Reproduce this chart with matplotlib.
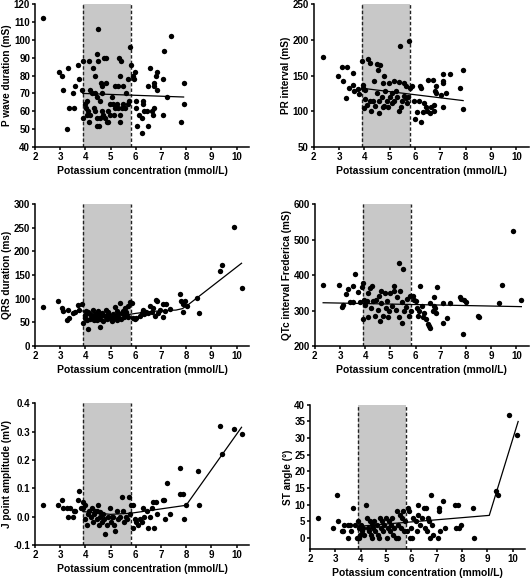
import matplotlib
matplotlib.use("Agg")
import matplotlib.pyplot as plt

plt.rcParams['font.family'] = ['Liberation Sans', 'DejaVu Sans']
plt.rcParams['font.weight'] = 'bold'
plt.rcParams['axes.labelweight'] = 'bold'

# normal potassium range (shaded)
k_low, k_high = 3.9, 5.8
x_ticks = [2, 3, 4, 5, 6, 7, 8, 9, 10]

# P wave duration
k1 = [2.33, 2.94, 3.07, 3.12, 3.31, 3.26, 3.36, 3.53, 3.52, 3.58, 3.71, 3.76, 3.89, 3.85,
      4.13, 4.51, 4.48, 4.50, 4.29, 4.37, 4.75, 4.82, 4.62, 4.80, 4.66, 5.35, 5.41, 5.37, 5.31, 5.17,
      5.50, 5.69, 5.77, 5.81, 5.88, 5.93, 5.97, 5.63, 5.74, 5.70,
      4.18, 4.25, 4.05, 3.98, 4.02, 4.12, 4.06, 4.20, 3.92, 4.16, 4.34, 4.38, 4.45, 4.48, 4.53, 4.58,
      4.65, 4.71, 4.78, 4.84, 4.91, 4.98, 4.88, 4.98, 5.04, 5.11, 5.17, 5.24, 5.31, 5.37, 5.37, 5.44,
      5.50, 5.57, 5.14, 4.58, 4.45, 4.37, 4.65,
      6.03, 6.03, 6.06, 6.11, 6.23, 6.27, 6.27, 6.25, 6.33, 6.43, 6.48, 6.48, 6.56, 6.63, 6.67, 6.74,
      6.74, 6.72, 6.80, 6.85, 6.83, 7.09, 7.14, 7.10, 7.25, 7.38, 7.79, 7.91, 7.90]
pwave = [112, 82, 80, 72, 84, 50, 62, 62, 70, 74, 86, 78, 88, 72,
         88, 106, 92, 88, 84, 80, 90, 90, 76, 76, 74, 90, 88, 80, 74, 74,
         74, 78, 96, 86, 80, 78, 82, 70, 66, 64,
         72, 70, 66, 64, 62, 60, 58, 58, 56, 54, 62, 60, 56, 52, 52, 56,
         60, 58, 56, 54, 54, 58, 60, 64, 68, 64, 62, 64, 62, 58, 54, 62,
         64, 62, 58, 66, 68, 70, 70,
         66, 62, 52, 58, 56, 66, 64, 48, 60, 60, 52, 74, 84, 60, 58, 62,
         76, 74, 80, 82, 72, 78, 94, 58, 68, 102, 54, 76, 64]
fit1_x = [3.9, 7.9]
fit1_y = [70, 68]

# PR interval
k2 = [2.35, 2.95, 3.10, 3.16, 3.30, 3.26, 3.38, 3.54, 3.55, 3.60, 3.73, 3.77, 3.92, 3.94, 3.96, 4.04,
      4.14, 4.22, 4.50, 4.62, 4.55, 4.39, 4.79, 4.72, 4.96, 5.18, 5.40, 5.76, 5.38, 5.55, 5.65, 5.81, 5.87,
      4.03, 4.09, 4.00, 4.26, 4.35, 4.43, 4.51, 4.56, 4.59, 4.69, 4.72, 4.81, 4.89, 4.92, 5.02, 5.09,
      5.11, 5.18, 5.24, 5.28, 5.38, 5.44, 5.47, 5.55, 5.64, 5.68, 5.73, 4.78, 4.21,
      5.97, 6.01, 6.07, 6.14, 6.19, 6.23, 6.24, 6.30, 6.34, 6.43, 6.49, 6.53, 6.59, 6.62, 6.70, 6.74,
      6.76, 6.80, 6.81, 6.84, 7.02, 7.09, 7.11, 7.12, 7.12, 7.22, 7.38, 7.77, 7.89, 7.90]
pr = [176, 150, 162, 142, 162, 119, 132, 153, 137, 129, 131, 124, 171, 137, 133, 130,
      173, 167, 166, 165, 158, 143, 150, 139, 139, 143, 192, 199, 141, 140, 135, 133, 135,
      117, 109, 105, 101, 115, 108, 125, 97, 115, 120, 106, 128, 115, 106, 120, 111,
      125, 115, 129, 120, 101, 106, 115, 122, 118, 111, 120, 108, 115,
      115, 89, 99, 115, 135, 133, 85, 99, 111, 106, 101, 144, 97, 106, 144, 100,
      109, 129, 125, 136, 123, 143, 152, 139, 106, 126, 152, 132, 158, 103]
fit2_x = [3.97, 7.9]
fit2_y = [132, 115]

# QRS duration
k3 = [2.32, 2.93, 3.07, 3.12, 3.26, 3.32, 3.36, 3.52, 3.58, 3.71, 3.76, 3.87,
      4.12, 4.58, 3.90, 3.98, 4.05, 4.18, 4.29, 4.38, 4.45, 4.51, 4.58, 4.65, 4.71, 4.82, 4.87, 4.98,
      5.06, 5.11, 5.17, 5.24, 5.31, 5.37, 5.44, 5.50, 5.57, 5.63, 5.70, 5.77, 5.84, 4.08, 4.34, 4.78,
      5.20, 5.53, 4.02,
      4.00, 4.10, 4.20, 4.25, 4.40, 4.50, 4.60, 4.70, 4.90, 5.00, 5.10, 5.30, 5.40, 5.60, 5.70, 4.45,
      4.90, 5.25,
      5.90, 5.97, 6.03, 6.17, 6.23, 6.27, 6.34, 6.40, 6.50, 6.56, 6.63, 6.70, 6.76, 6.80, 6.86, 6.89,
      6.96, 7.07, 7.09, 7.16, 7.22, 7.36, 7.75, 7.78, 7.86, 7.89, 7.95, 8.02, 8.44, 8.52, 9.34, 9.42,
      9.90, 10.21]
qrs = [82, 95, 81, 74, 54, 77, 60, 70, 72, 87, 77, 88,
       36, 40, 49, 60, 70, 67, 76, 60, 56, 75, 63, 70, 53, 77, 57, 63,
       53, 67, 82, 56, 70, 91, 69, 74, 81, 67, 84, 93, 90, 56, 56, 63,
       63, 62, 73,
       65, 72, 58, 63, 68, 62, 57, 66, 68, 58, 60, 62, 58, 72, 62, 70,
       72, 75,
       60, 57, 60, 63, 70, 76, 67, 72, 69, 84, 72, 81, 64, 98, 95, 70,
       77, 62, 88, 74, 89, 78, 109, 95, 88, 72, 95, 84, 102, 69, 159, 172,
       252, 123]
fit3_x = [3.9, 4.3, 4.8, 5.4, 6.0, 6.6, 7.2, 7.6, 7.85, 8.05, 10.2]
fit3_y = [74, 67, 63, 64, 69, 73, 75, 76, 79, 86, 175]

# QTc interval
k4 = [2.33, 2.95, 3.08, 3.13, 3.25, 3.32, 3.38, 3.52, 3.53, 3.58, 3.71, 3.78, 3.87, 3.91, 3.92,
      3.95, 4.01, 4.08, 4.13, 4.19, 4.27, 4.24, 4.32, 4.37, 4.44, 4.50, 4.57, 4.61, 4.64, 4.70, 4.77,
      4.81, 4.87, 4.90, 4.96, 5.00, 5.06, 5.13, 5.16, 5.23, 5.27, 5.33, 5.36, 5.40, 5.45, 5.47, 5.50,
      5.56, 5.63, 5.66, 5.72, 5.77, 5.82, 4.54, 4.11,
      5.89, 5.95, 6.02, 6.06, 6.08, 6.15, 6.19, 6.24, 6.28, 6.35, 6.41, 6.48, 6.52, 6.56, 6.59, 6.68,
      6.72, 6.74, 6.77, 6.81, 6.86, 7.09, 7.10, 7.25, 7.35, 7.77, 7.82, 7.89, 7.93, 8.02, 8.46, 8.52,
      9.33, 9.42, 9.85, 10.20]
qtc = [371, 372, 309, 315, 348, 362, 325, 325, 368, 404, 352, 325, 366, 378, 277,
       331, 317, 326, 281, 364, 369, 307, 326, 284, 331, 301, 270, 354, 321, 286, 350,
       307, 326, 282, 298, 350, 314, 354, 370, 301, 338, 434, 282, 356, 325, 264, 418,
       298, 310, 333, 286, 340, 298, 340, 350,
       340, 331, 326, 307, 284, 298, 368, 312, 282, 292, 277, 263, 256, 322, 251, 298,
       312, 337, 307, 293, 367, 322, 265, 280, 322, 337, 333, 235, 329, 325, 284, 282,
       320, 373, 525, 331]
fit4_x = [2.33, 10.2]
fit4_y = [322, 311]

# J point amplitude
k5 = [2.32, 2.93, 3.07, 3.12, 3.26, 3.32, 3.39, 3.52, 3.55, 3.60, 3.69, 3.76, 3.83, 3.90,
      3.92, 3.98, 4.00, 4.05, 4.09, 4.16, 4.21, 4.25, 4.31, 4.35, 4.40, 4.45, 4.51, 4.55, 4.58, 4.65,
      4.69, 4.74, 4.79, 4.84, 4.91, 4.98, 5.02, 5.08, 5.15, 5.17, 5.24, 5.31, 5.37, 5.45, 5.48, 5.53,
      5.60, 5.66, 5.74, 5.77, 5.81, 4.47, 4.60, 5.06,
      5.90, 5.90, 5.97, 6.03, 6.10, 6.17, 6.23, 6.27, 6.33, 6.43, 6.50, 6.56, 6.63, 6.70, 6.72, 6.80,
      6.83, 7.07, 7.12, 7.16, 7.25, 7.36, 7.75, 7.75, 7.89, 7.91, 7.99, 8.46, 8.52, 9.35, 9.43, 9.90,
      10.20]
jpt = [0.04, 0.04, 0.06, 0.03, 0.03, 0.0, 0.03, 0.0, 0.02, 0.02, 0.06, 0.09, 0.03, 0.03,
       0.05, 0.04, -0.01, -0.03, 0.01, 0.02, 0.0, 0.03, -0.02, 0.01, 0.02, -0.01, 0.04, -0.03, 0.0, -0.02,
       0.01, -0.01, -0.06, -0.03, 0.0, 0.03, -0.02, 0.0, -0.03, -0.05, 0.02, -0.01, 0.0, 0.07, 0.02, -0.02,
       0.0, -0.01, 0.07, 0.01, 0.04, 0.02, 0.015, 0.0,
       0.04, -0.04, -0.01, -0.02, -0.03, -0.01, -0.02, 0.03, 0.0, 0.02, -0.04, 0.0, 0.03, 0.05, -0.04, 0.05,
       0.01, 0.06, 0.06, -0.01, 0.12, 0.01, 0.17, 0.08, 0.08, -0.01, 0.04, 0.16, 0.04, 0.32, 0.22, 0.31,
       0.29]
fit5_x = [3.9, 5.0, 5.8, 8.0, 10.2]
fit5_y = [0.018, 0.008, 0.012, 0.04, 0.315]

# ST angle
k6 = [2.33, 2.92, 3.08, 3.12, 3.25, 3.32, 3.36, 3.49, 3.51, 3.57, 3.60, 3.71, 3.78, 3.87,
      3.91, 3.93, 3.97, 4.01, 4.04, 4.11, 4.14, 4.21, 4.24, 4.28, 4.33, 4.37, 4.41, 4.43, 4.46, 4.50,
      4.54, 4.57, 4.63, 4.67, 4.72, 4.76, 4.80, 4.86, 4.89, 4.93, 4.99, 5.03, 5.07, 5.12, 5.16, 5.20,
      5.25, 5.29, 5.33, 5.38, 5.42, 5.46, 5.49, 5.54, 5.59, 5.64, 5.68, 5.72, 5.75, 3.95,
      5.82, 5.86, 5.92, 5.96, 5.99, 6.04, 6.08, 6.17, 6.21, 6.25, 6.28, 6.34, 6.41, 6.49, 6.54, 6.57,
      6.61, 6.67, 6.71, 6.74, 6.78, 6.80, 6.84, 7.07, 7.09, 7.11, 7.13, 7.24, 7.33, 7.72, 7.75, 7.86,
      7.89, 7.96, 8.42, 8.47, 9.35, 9.43, 9.87, 10.17]
st = [6, 3, 13, 5, 2, 2, 4, 4, 0, 4, 2, 9, 4, 0,
      5, 3, 1, 4, 2, 3, 1, 10, 6, 3, 2, 5, 1, 4, 0, 3,
      5, 2, 4, 1, 0, 6, 3, 5, 2, 4, 6, 0, 3, 5, 2, 4,
      6, 1, 3, 0, 8, 4, 0, 7, 3, 6, 8, 2, 5, 0,
      2, 9, 8, 0, 3, 0, 6, 5, 2, 10, 7, 4, 6, 9, 3, 9,
      2, 6, 5, 0, 13, 4, 1, 0, 8, 9, 2, 11, 3, 10, 3, 10,
      3, 4, 9, 0, 14, 13, 37, 31]
fit6_x = [3.9, 9.08, 10.22]
fit6_y = [3.5, 6.8, 35]

xlabel = "Potassium concentration (mmol/L)"


def draw_panel(ax, x, y, fx, fy, ylim, yticks, ylabel, yticklabels=None):
    ax.axvspan(k_low, k_high, color="#c8c8c8", lw=0, zorder=0)
    for kv in (k_low, k_high):
        ax.axvline(kv, color="#222222", lw=1, dashes=(2.5, 1.5), zorder=1)
    ax.scatter(x, y, s=15, color="black", lw=0, zorder=3)
    ax.plot(fx, fy, color="black", lw=0.9, zorder=4)
    ax.set_xlim(2, 10.5)
    ax.set_ylim(*ylim)
    ax.set_xticks(x_ticks)
    ax.set_yticks(yticks)
    if yticklabels is not None:
        ax.set_yticklabels(yticklabels)
    ax.spines["top"].set_visible(False)
    ax.spines["right"].set_visible(False)
    ax.spines["left"].set_linewidth(1.1)
    ax.spines["bottom"].set_linewidth(1.1)
    ax.tick_params(direction="out", length=2, width=1.1, labelsize=7, pad=1.5)
    ax.set_xlabel(xlabel, fontsize=7.5, labelpad=3)
    ax.set_ylabel(ylabel, fontsize=7.2, labelpad=1)


fig = plt.figure(figsize=(5.3, 5.79), dpi=100)

ax1 = fig.add_axes([0.066, 0.746, 0.404, 0.247])
draw_panel(ax1, k1, pwave, fit1_x, fit1_y, (40, 120), range(40, 121, 10),
           "P wave duration (mS)")

ax2 = fig.add_axes([0.592, 0.746, 0.406, 0.247])
draw_panel(ax2, k2, pr, fit2_x, fit2_y, (50, 250), range(50, 251, 50),
           "PR interval (mS)")

ax3 = fig.add_axes([0.066, 0.4024, 0.404, 0.245])
draw_panel(ax3, k3, qrs, fit3_x, fit3_y, (0, 300), range(0, 301, 50),
           "QRS duration (ms)")

ax4 = fig.add_axes([0.594, 0.4024, 0.404, 0.245])
draw_panel(ax4, k4, qtc, fit4_x, fit4_y, (200, 600), range(200, 601, 100),
           "QTc interval Frederica (mS)")

ax5 = fig.add_axes([0.066, 0.0587, 0.404, 0.245])
j_ticks = [-0.1, 0.0, 0.1, 0.2, 0.3, 0.4]
draw_panel(ax5, k5, jpt, fit5_x, fit5_y, (-0.1, 0.4), j_ticks,
           "J point amplitude (mV)", ["-0.1", "0.0", "0.1", "0.2", "0.3", "0.4"])

ax6 = fig.add_axes([0.585, 0.0518, 0.406, 0.249])
draw_panel(ax6, k6, st, fit6_x, fit6_y, (-3.3, 40), range(0, 41, 5),
           "ST angle (°)")

fig.savefig("out.png", dpi=100)
